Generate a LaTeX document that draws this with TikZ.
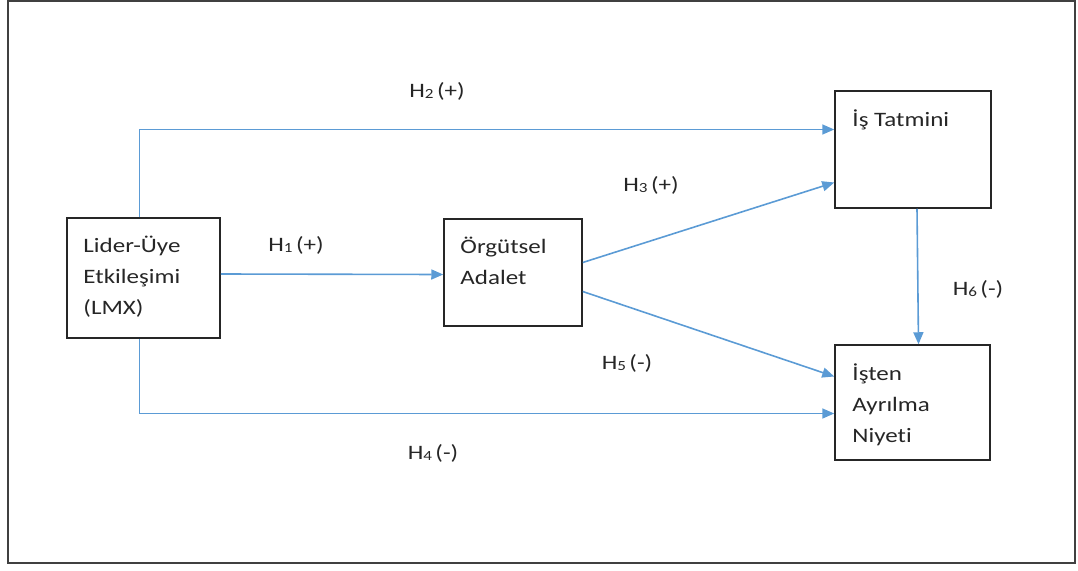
\documentclass[tikz,border=0pt]{standalone}
\usepackage{fontspec}
\setmainfont[FakeStretch=1.22,Ligatures={NoCommon}]{Carlito}
\usetikzlibrary{arrows.meta,positioning,calc}

\newcommand{\hlab}[2]{H\lower1pt\hbox{\fontsize{14}{14}\selectfont #1}\,(#2)}

\begin{document}
\begin{tikzpicture}[x=1pt,y=-1pt]
  \tikzset{
    varbox/.style={rectangle, draw=black!85, line width=1.5pt, minimum width=#1, inner sep=0pt},
    boxtext/.style={anchor=north west, inner sep=0pt, align=left, font=\fontsize{20.5}{31}\selectfont, text=black!85},
    link/.style={draw={rgb,255:red,91;green,155;blue,213}, line width=1.6pt, -{Triangle[length=12pt,width=10pt]}},
    hyp/.style={font=\fontsize{20.5}{24}\selectfont, inner sep=0pt, text=black!85}
  }
  \useasboundingbox (0,0) rectangle (1078,570);
  \draw[black!75, line width=1.2pt] (8,1) rectangle (1075,563);

  \node [varbox=153pt, minimum height=120pt] (lmx) at (143.5,278) {};
  \node [varbox=138pt, minimum height=107pt] (org) at (513,272.5) {};
  \node [varbox=156pt, minimum height=117pt] (tat) at (913,149.5) {};
  \node [varbox=155pt, minimum height=115pt] (ayr) at (912.5,402.5) {};

  \node [boxtext] at ([shift={(17pt,-19pt)}]lmx.north west) {Lider-Üye\\Etkileşimi\\(LMX)};
  \node [boxtext] at ([shift={(17pt,-19pt)}]org.north west) {Örgütsel\\Adalet};
  \node [boxtext] at ([shift={(18pt,-19pt)}]tat.north west) {İş Tatmini};
  \node [boxtext] at ([shift={(18pt,-19pt)}]ayr.north west) {İşten\\Ayrılma\\Niyeti};

  \draw [link] ([yshift=4pt]lmx.east) -- ([yshift=-2pt]org.west);
  \draw [link] ([xshift=-4pt]lmx.north) |- ([yshift=20pt]tat.west);
  \draw [link] ([yshift=10pt]org.east) -- ([yshift=-33pt]tat.west);
  \draw [link] ([xshift=-4pt]lmx.south) |- ([yshift=-11pt]ayr.west);
  \draw [link] ([yshift=-19pt]org.east) -- ([yshift=26pt]ayr.west);
  \draw [link] ([xshift=4pt]tat.south) -- ([xshift=6pt]ayr.north);

  \node [hyp] (h1) at (296,245) {\hlab{1}{+}};
  \node [hyp] (h2) at (437,91) {\hlab{2}{+}};
  \node [hyp] (h3) at (651,185) {\hlab{3}{+}};
  \node [hyp] (h4) at (433,453) {\hlab{4}{-}};
  \node [hyp] (h5) at (627,363) {\hlab{5}{-}};
  \node [hyp] (h6) at (978,289) {\hlab{6}{-}};
\end{tikzpicture}
\end{document}
